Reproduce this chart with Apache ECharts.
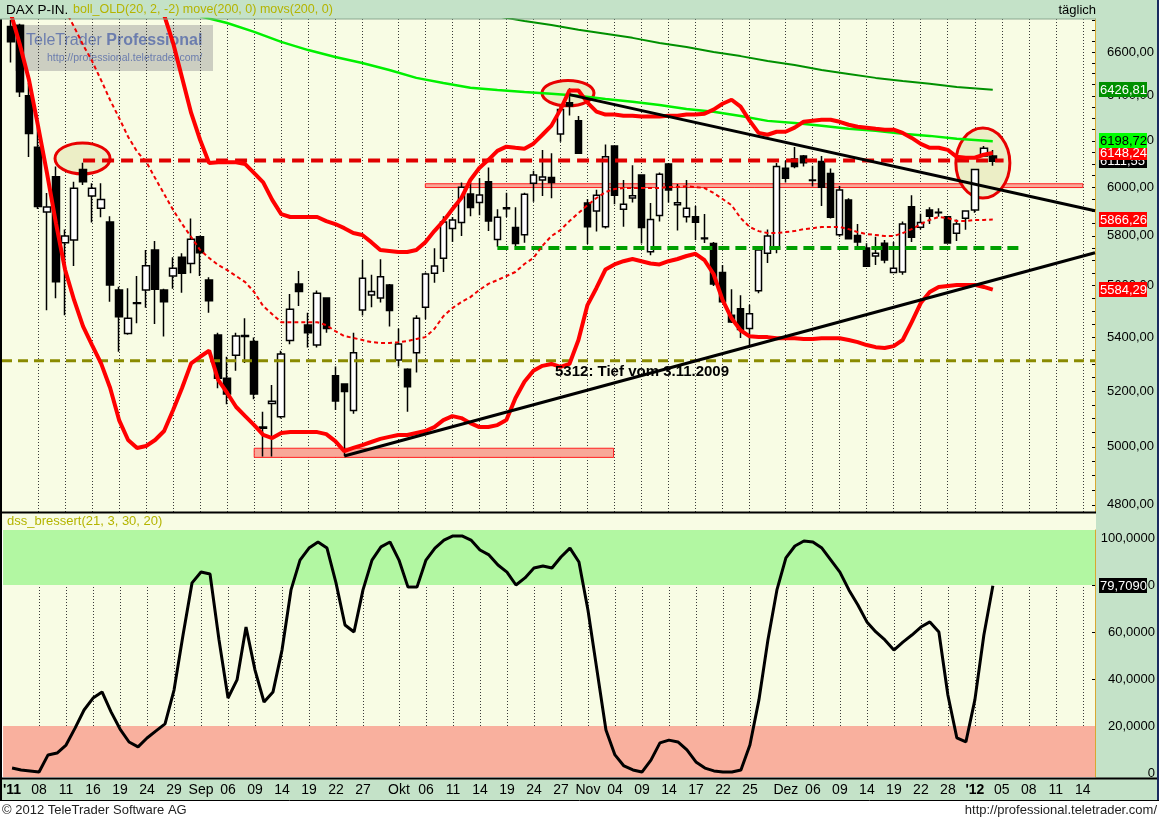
<!DOCTYPE html>
<html><head><meta charset="utf-8">
<script src="https://cdn.jsdelivr.net/npm/echarts@6/dist/echarts.min.js"></script>
<style>html,body{margin:0;padding:0;background:#fff;}#c{width:1159px;height:820px;}</style>
</head><body><div id="c"></div>
<script>
// ---------- DATA ----------
const tickIdx  = [0,3,6,9,12,15,18,21,24,27,30,33,36,39,43,46,49,52,55,58,61,64,67,70,73,76,79,82,86,89,92,95,98,101,104,107,110,113,116,119];
const tickText = ["'11",'08','11','16','19','24','29','Sep','06','09','14','19','22','27','Okt','06','11','14','19','24','27','Nov','04','09','14','17','22','25','Dez','06','09','14','19','22','28',"'12",'05','08','11','14'];
const priceLabels = [4800,5000,5200,5400,5600,5800,6000,6200,6400,6600];
const oscLabels = [0,20,40,60,80,100];

const open  = [6719,6725,6400,6172,5898,6046,5772,5783,6077,5964,5913,5856,5583,5415,5530,5583,5742,5583,5638,5713,5688,5796,5622,5409,5247,5333,5403,5384,5066,5155,5107,5388,5607,5447,5371,5552,5256,5226,5129,5505,5563,5552,5603,5315,5280,5342,5516,5649,5709,5830,5854,5973,5937,6025,5785,5911,5834,5804,6018,6032,6043,6230,6369,6289,5935,5902,5837,6178,5909,5956,6053,5735,5883,6100,5928,5878,5878,5788,5769,5652,5485,5510,5434,5580,5729,5745,6082,6122,6135,6032,6111,6060,5804,5948,5801,5750,5718,5770,5652,5654,5920,5835,5906,5895,5878,5810,5872,5906,6135,6135];
const close = [6648,6418,6232,5921,5918,5615,5799,5997,6025,5997,5950,5603,5479,5473,5533,5679,5586,5537,5669,5649,5786,5731,5541,5247,5189,5405,5407,5189,5070,5163,5337,5508,5577,5418,5570,5434,5164,5198,5342,5629,5577,5635,5503,5375,5216,5473,5646,5678,5856,5865,6001,5916,5969,5861,5876,5915,5769,5972,6053,6045,6021,6339,6354,6146,5837,5968,6131,5968,5930,5966,5834,5867,6056,5990,5936,5913,5855,5791,5607,5537,5459,5430,5490,5742,5799,6089,6039,6089,6106,6030,6001,5876,5990,5788,5775,5677,5729,5702,5669,5848,5794,5854,5880,5897,5771,5848,5902,6077,6168,6111.55];
const low   = [6551,6395,6130,5910,5504,5551,5485,5678,6011,5854,5876,5537,5346,5410,5454,5514,5451,5403,5588,5572,5649,5638,5494,5210,5152,5275,5304,5170,4966,4966,5101,5374,5520,5362,5362,5418,5131,4968,5118,5484,5516,5534,5441,5291,5125,5268,5469,5611,5654,5775,5799,5880,5884,5819,5755,5877,5755,5772,5940,5964,5955,6196,6312,6146,5766,5817,5830,5930,5837,5937,5769,5721,5858,5937,5821,5854,5783,5771,5599,5533,5455,5398,5371,5570,5690,5729,6021,6082,6089,6004,5923,5871,5796,5785,5750,5677,5682,5689,5650,5643,5775,5826,5848,5878,5771,5779,5825,5895,6131,6093];
const high  = [6750,6733,6458,6268,5977,6089,5826,6025,6106,6018,6018,5880,5596,5590,5638,5742,5779,5588,5713,5729,5871,5800,5633,5418,5327,5418,5473,5400,5125,5222,5349,5567,5658,5494,5581,5555,5291,5229,5418,5702,5643,5705,5607,5434,5284,5485,5652,5749,5880,5877,6021,6021,6040,6085,5909,5978,5917,5978,6071,6161,6146,6353,6434,6310,5952,5991,6184,6178,6032,6095,6056,5935,6064,6104,6015,6032,5923,5889,5775,5682,5586,5562,5525,5749,5826,6104,6114,6174,6139,6093,6135,6081,6007,5955,5848,5770,5796,5783,5775,5858,5968,5890,5917,5913,5878,5867,5902,6077,6178,6161];

const bollUpperStart = 17;
const bollUpper = [6774,6642,6480,6323,6204,6104,6108,6108,6108,6100,6061,6022,5948,5889,5877,5877,5877,5877,5860,5848,5831,5811,5803,5774,5742,5738,5734,5734,5742,5774,5819,5860,5909,5956,6032,6083,6118,6157,6175,6170,6166,6188,6227,6267,6338,6424,6424,6369,6329,6316,6316,6311,6311,6307,6307,6307,6311,6311,6316,6316,6320,6338,6364,6382,6351,6289,6235,6227,6240,6240,6258,6284,6289,6293,6293,6284,6271,6262,6258,6253,6249,6249,6235,6213,6187,6170,6170,6161,6131,6127,6127,6140,6148.24];
const bollMidStart = 6;
const bollMid = [6798,6718,6633,6558,6471,6381,6301,6218,6153,6110,6040,5973,5906,5848,5795,5742,5710,5682,5662,5638,5614,5575,5520,5489,5458,5458,5458,5458,5458,5447,5424,5405,5398,5390,5382,5379,5379,5382,5386,5394,5401,5432,5481,5512,5536,5555,5583,5607,5622,5638,5654,5686,5710,5759,5799,5823,5860,5893,5926,5956,5981,5994,5998,5998,5998,5998,5998,6002,6002,6006,6002,5998,5977,5952,5926,5873,5836,5819,5811,5811,5815,5819,5827,5831,5836,5836,5836,5827,5815,5807,5803,5799,5799,5811,5827,5848,5865,5877,5873,5860,5860,5865,5865,5866.26];
const bollLowerStart = 0;
const bollLower = [6779,6632,6471,6266,6060,5850,5664,5544,5442,5371,5302,5212,5095,5024,4996,5003,5024,5056,5131,5212,5302,5327,5350,5241,5193,5142,5109,5077,5042,5031,5049,5052,5052,5052,5052,5045,5020,4985,4996,5006,5017,5028,5035,5042,5042,5049,5056,5070,5095,5109,5102,5084,5070,5070,5077,5095,5174,5234,5275,5293,5300,5289,5300,5390,5524,5591,5664,5684,5697,5706,5697,5688,5684,5697,5706,5718,5727,5701,5646,5544,5473,5427,5404,5401,5401,5397,5397,5397,5394,5394,5397,5397,5397,5390,5382,5371,5363,5360,5367,5390,5458,5532,5575,5595,5599,5603,5603,5603,5595,5584.29];

const movsLine = [[21,6768],[24,6736],[27,6694],[30,6647],[33,6609],[36,6577],[39,6549],[42,6517],[45,6481],[48,6458],[51,6436],[54,6426],[57,6417],[60,6409],[63,6400],[66,6386],[69,6373],[72,6359],[75,6341],[78,6328],[81,6310],[84,6288],[87,6279],[90,6266],[93,6253],[96,6244],[99,6231],[102,6222],[105,6209],[109,6198.72]];
const moveLine = [[54,6768],[57,6745],[60,6727],[63,6704],[66,6685],[69,6666],[72,6642],[75,6623],[78,6600],[81,6581],[84,6558],[87,6540],[90,6517],[93,6499],[96,6481],[99,6467],[102,6454],[105,6440],[109,6426.81]];

const trendDown = [[62,6405],[120.35,5903]];
const trendUp   = [[37,4968],[120.35,5731]];
const resistLine = [[8,6115],[110.2,6115]];
const supportLine = [[54,5750],[112,5750]];
const low2009Line = [[-1,5312],[120.35,5312]];
const zoneHigh = [46,119,6000,6016];
const zoneLow  = [27,66.9,4963,4995];

const dss = [2.1,1.3,0.9,0.4,7.7,8.5,11.9,19.1,26.8,31.9,34.5,26,18.7,13.2,11.1,14.9,17.9,20.9,35.3,58.7,80.9,85.5,84.7,56.6,31.9,39.6,62.1,43.8,30.2,34.5,52.3,77.9,90.6,95.7,98.3,95.7,80.9,63,60,77.9,90.6,96.2,98.3,90.6,79.1,79.1,90.6,95.7,99.1,100.9,100.9,99.1,94.9,92.8,88.5,85.5,80,83,87.2,88.1,87.2,91.9,95.7,89.8,69.4,43.8,18.3,7.7,3,1.3,0.4,5.5,12.8,14,13.2,9.8,4.7,2.1,0.9,0.4,0.4,1.3,11.9,31.1,56.6,77.9,91.5,96.6,98.7,98.3,95.7,90.6,85.5,77.9,71.5,64.3,60,56.6,52.3,55.7,58.7,62.1,64.3,60,33.2,14.9,13.2,31.1,58.7,79.709];

// value boxes (drawn in this order)
const boxVals = [6111.55, 6148.24, 6198.72, 6426.81, 5866.26, 5584.29];
const boxBg   = ['#000000','#FF0000','#00FF00','#009000','#FF0000','#FF0000'];
const boxFg   = ['#FFFFFF','#FFFFFF','#000000','#FFFFFF','#FFFFFF','#FFFFFF'];
const oscBox  = 79.709;

// annotations: [index, value, rx, ry]
const ellipses = [[7.94,6124,27.5,15.5],[61.84,6412,26,12.7],[107.9,6104,27,35]];
const noteText = '5312: Tief vom 3.11.2009';
const notePos = [60.4, 5312];

// ---------- LAYOUT / STYLE ----------
const FONT = '"Liberation Sans", Arial, sans-serif';
const BG = '#F8FCE4', PANEL = '#C4E2C8';
const X_MIN = -1, X_MAX = 120.35;
const pairs = (start, arr) => arr.map((v, k) => [start + k, v]);
const fmt2 = v => v.toFixed(2).replace('.', ',');
const minorTicks = []; for (let v = 4800; v <= 6750; v += 50) minorTicks.push(v);
const gridIdx = tickIdx.filter(i => i > 0);

const xCommon = (gi, showLabel) => ({
  gridIndex: gi, type: 'value', min: X_MIN, max: X_MAX,
  axisLine: {show: false, onZero: false},
  axisTick: {show: false, customValues: gridIdx},
  splitLine: {show: true, lineStyle: {color: '#3a3a3a', type: [1, 2], width: 1}},
  axisLabel: showLabel ? {
    show: true, customValues: tickIdx, margin: 6, color: '#000', fontSize: 14, fontFamily: FONT,
    formatter: v => { const k = tickIdx.indexOf(Math.round(v)); if (k < 0) return ''; const t = tickText[k]; return t[0] === "'" ? '{b|' + t + '}' : t; },
    rich: {b: {fontWeight: 'bold', fontSize: 14, fontFamily: FONT, color: '#000'}}
  } : {show: false}
});

const chart = echarts.init(document.getElementById('c'), null, {renderer: 'canvas', width: 1159, height: 820});

const lineS = (data, color, width, type, z, extra) => Object.assign({
  type: 'line', xAxisIndex: 0, yAxisIndex: 0, data: data, showSymbol: false, symbol: 'none',
  lineStyle: {color: color, width: width, type: type || 'solid'}, z: z || 3, silent: true, animation: false
}, extra || {});

const option = {
  animation: false,
  backgroundColor: '#FFFFFF',
  grid: [
    {left: 2, top: 19, width: 1093, height: 493, show: true, backgroundColor: BG, borderWidth: 0},
    {left: 2, top: 530, width: 1093, height: 247, show: true, backgroundColor: BG, borderWidth: 0}
  ],
  xAxis: [xCommon(0, false), xCommon(1, true)],
  yAxis: [
    {gridIndex: 0, type: 'log', logBase: 10, min: 4776, max: 6755, position: 'right',
     axisLine: {show: true, onZero: false, lineStyle: {color: '#D8A830', width: 1}},
     axisTick: {show: true, inside: true, length: 3, customValues: minorTicks, lineStyle: {color: '#000'}},
     axisLabel: {show: true, customValues: priceLabels, formatter: v => fmt2(v), align: 'right', margin: 59, color: '#000', fontSize: 13, fontFamily: FONT},
     splitLine: {show: false}},
    {gridIndex: 1, type: 'value', min: -1.7, max: 103.4, position: 'right',
     axisLine: {show: true, onZero: false, lineStyle: {color: '#D8A830', width: 1}},
     axisTick: {show: true, inside: true, length: 3, customValues: oscLabels, lineStyle: {color: '#000'}},
     axisLabel: {show: true, customValues: oscLabels, formatter: v => v === 0 ? '0' : v + ',0000', align: 'right', margin: 60, color: '#000', fontSize: 13, fontFamily: FONT},
     splitLine: {show: false}}
  ],
  graphic: [
    {type: 'rect', shape: {x: 0, y: 0, width: 1159, height: 19}, style: {fill: PANEL}, z: -10},
    {type: 'rect', shape: {x: 1096, y: 19, width: 63, height: 760}, style: {fill: PANEL}, z: -10},
    {type: 'rect', shape: {x: 0, y: 779, width: 1159, height: 21}, style: {fill: PANEL}, z: -10},
    {type: 'rect', shape: {x: 2, y: 512, width: 1094, height: 18}, style: {fill: BG}, z: -10},
    {type: 'line', shape: {x1: 0, y1: 512.5, x2: 1096, y2: 512.5}, style: {stroke: '#000', lineWidth: 2}, z: 50},
    {type: 'line', shape: {x1: 0, y1: 778.5, x2: 1159, y2: 778.5}, style: {stroke: '#000', lineWidth: 2}, z: 50},
    {type: 'line', shape: {x1: 0, y1: 800.5, x2: 1159, y2: 800.5}, style: {stroke: '#000', lineWidth: 1}, z: 50},
    {type: 'line', shape: {x1: 1, y1: 19, x2: 1, y2: 800}, style: {stroke: '#000', lineWidth: 2}, z: 50},
    {type: 'line', shape: {x1: 1158, y1: 0, x2: 1158, y2: 800}, style: {stroke: '#1a2a60', lineWidth: 2}, z: 50},
    {type: 'line', shape: {x1: 0, y1: 19, x2: 1096, y2: 19}, style: {stroke: '#8aa890', lineWidth: 1}, z: 50},
    {type: 'text', x: 6, y: 10, style: {text: 'DAX P-IN.', font: '13.5px ' + FONT, fill: '#000', verticalAlign: 'middle'}, z: 60},
    {type: 'text', x: 73, y: 10, style: {text: 'boll_OLD(20, 2, -2) move(200, 0) movs(200, 0)', font: '12.5px ' + FONT, fill: '#B4B400', verticalAlign: 'middle'}, z: 60},
    {type: 'text', x: 1096, y: 10, style: {text: 'täglich', font: '13px ' + FONT, fill: '#000', verticalAlign: 'middle', align: 'right'}, z: 60},
    {type: 'text', x: 7, y: 521, style: {text: 'dss_bressert(21, 3, 30, 20)', font: '13px ' + FONT, fill: '#B4B400', verticalAlign: 'middle'}, z: 60},
    {type: 'text', x: 2, y: 810, style: {text: '© 2012 TeleTrader Software AG', font: '13px ' + FONT, fill: '#222', verticalAlign: 'middle'}, z: 60},
    {type: 'text', x: 1157, y: 810, style: {text: 'http://professional.teletrader.com/', font: '13px ' + FONT, fill: '#222', verticalAlign: 'middle', align: 'right'}, z: 60},
    {type: 'group', z: 100, children: [
      {type: 'rect', shape: {x: 15, y: 25, width: 198, height: 46}, style: {fill: 'rgba(150,150,150,0.45)'}},
      {type: 'text', x: 26, y: 41, style: {rich: {a: {font: '16px ' + FONT, fill: 'rgba(90,110,170,0.85)'}, b: {font: 'bold 16px ' + FONT, fill: 'rgba(90,110,170,0.85)'}}, text: '{a|TeleTrader }{b|Professional}', verticalAlign: 'middle'}},
      {type: 'text', x: 47, y: 58, style: {text: 'http://professional.teletrader.com/', font: '10.5px ' + FONT, fill: 'rgba(90,110,170,0.85)', verticalAlign: 'middle'}}
    ]}
  ],
  series: [
    {type: 'custom', xAxisIndex: 0, yAxisIndex: 0, z: 1, silent: true, clip: false, data: ellipses,
     renderItem: (p, api) => { const c = api.coord([api.value(0), api.value(1)]);
       return {type: 'ellipse', shape: {cx: c[0], cy: c[1], rx: api.value(2), ry: api.value(3)}, style: {fill: '#ECEEC6', stroke: '#E80000', lineWidth: 3}}; }},
    lineS([], '#000', 0, 'solid', 1, {markArea: {silent: true, itemStyle: {color: '#F8A898', borderColor: '#FF2020', borderWidth: 1},
      data: [[{coord: [zoneHigh[0], zoneHigh[2]]}, {coord: [zoneHigh[1], zoneHigh[3]]}], [{coord: [zoneLow[0], zoneLow[2]]}, {coord: [zoneLow[1], zoneLow[3]]}]]}}),
    {type: 'candlestick', xAxisIndex: 0, yAxisIndex: 0, z: 2, barWidth: 7, silent: true,
     data: open.map((o, i) => [i, o, close[i], low[i], high[i]]),
     itemStyle: {color: '#FFFFFF', color0: '#000000', borderColor: '#000000', borderColor0: '#000000', borderWidth: 1.5}},
    lineS(low2009Line, '#8A8A00', 3, [10, 6], 3),
    lineS(supportLine, '#00A000', 4, [11, 6], 3),
    lineS(resistLine, '#E00000', 4, [12, 7], 3),
    lineS(pairs(bollMidStart, bollMid), '#F00000', 2, [4, 3], 4),
    lineS(moveLine, '#009000', 2, 'solid', 4),
    lineS(movsLine, '#00F000', 2.5, 'solid', 4),
    lineS(pairs(bollUpperStart, bollUpper), '#FF0000', 4, 'solid', 5),
    lineS(pairs(bollLowerStart, bollLower), '#FF0000', 4, 'solid', 5),
    lineS(trendDown, '#000000', 3, 'solid', 6),
    lineS(trendUp, '#000000', 3, 'solid', 6),
    {type: 'custom', xAxisIndex: 0, yAxisIndex: 0, z: 8, silent: true, clip: false, data: [notePos],
     renderItem: (p, api) => { const c = api.coord([api.value(0), api.value(1)]);
       return {type: 'text', x: c[0], y: c[1] + 11, style: {text: noteText, font: 'bold 15px ' + FONT, fill: '#000', verticalAlign: 'middle'}}; }},
    {type: 'custom', xAxisIndex: 0, yAxisIndex: 0, z: 20, silent: true, clip: false, data: boxVals.map(v => [109, v]),
     renderItem: (p, api) => { const k = p.dataIndex; const y = Math.round(api.coord([api.value(0), api.value(1)])[1]);
       return {type: 'group', children: [
         {type: 'rect', shape: {x: 1099, y: y - 8, width: 48, height: 15}, style: {fill: boxBg[k]}},
         {type: 'text', x: 1100, y: y, style: {text: fmt2(boxVals[k]), font: '13px ' + FONT, fill: boxFg[k], verticalAlign: 'middle'}}]}; }},
    {type: 'line', xAxisIndex: 1, yAxisIndex: 1, data: dss.map((v, i) => [i, v]), showSymbol: false, symbol: 'none', z: 4, silent: true,
     lineStyle: {color: '#000', width: 3},
     markArea: {silent: true, data: [
       [{yAxis: 80, itemStyle: {color: '#B2F7A2'}}, {yAxis: 103.4}],
       [{yAxis: -1.7, itemStyle: {color: '#F9B09E'}}, {yAxis: 20}]]}},
    {type: 'custom', xAxisIndex: 1, yAxisIndex: 1, z: 20, silent: true, clip: false, data: [[109, oscBox]],
     renderItem: (p, api) => { const y = Math.round(api.coord([api.value(0), api.value(1)])[1]);
       return {type: 'group', children: [
         {type: 'rect', shape: {x: 1099, y: y - 8, width: 48, height: 15}, style: {fill: '#000'}},
         {type: 'text', x: 1100, y: y, style: {text: oscBox.toFixed(4).replace('.', ','), font: '13px ' + FONT, fill: '#fff', verticalAlign: 'middle'}}]}; }}
  ]
};
chart.setOption(option);
</script></body></html>
